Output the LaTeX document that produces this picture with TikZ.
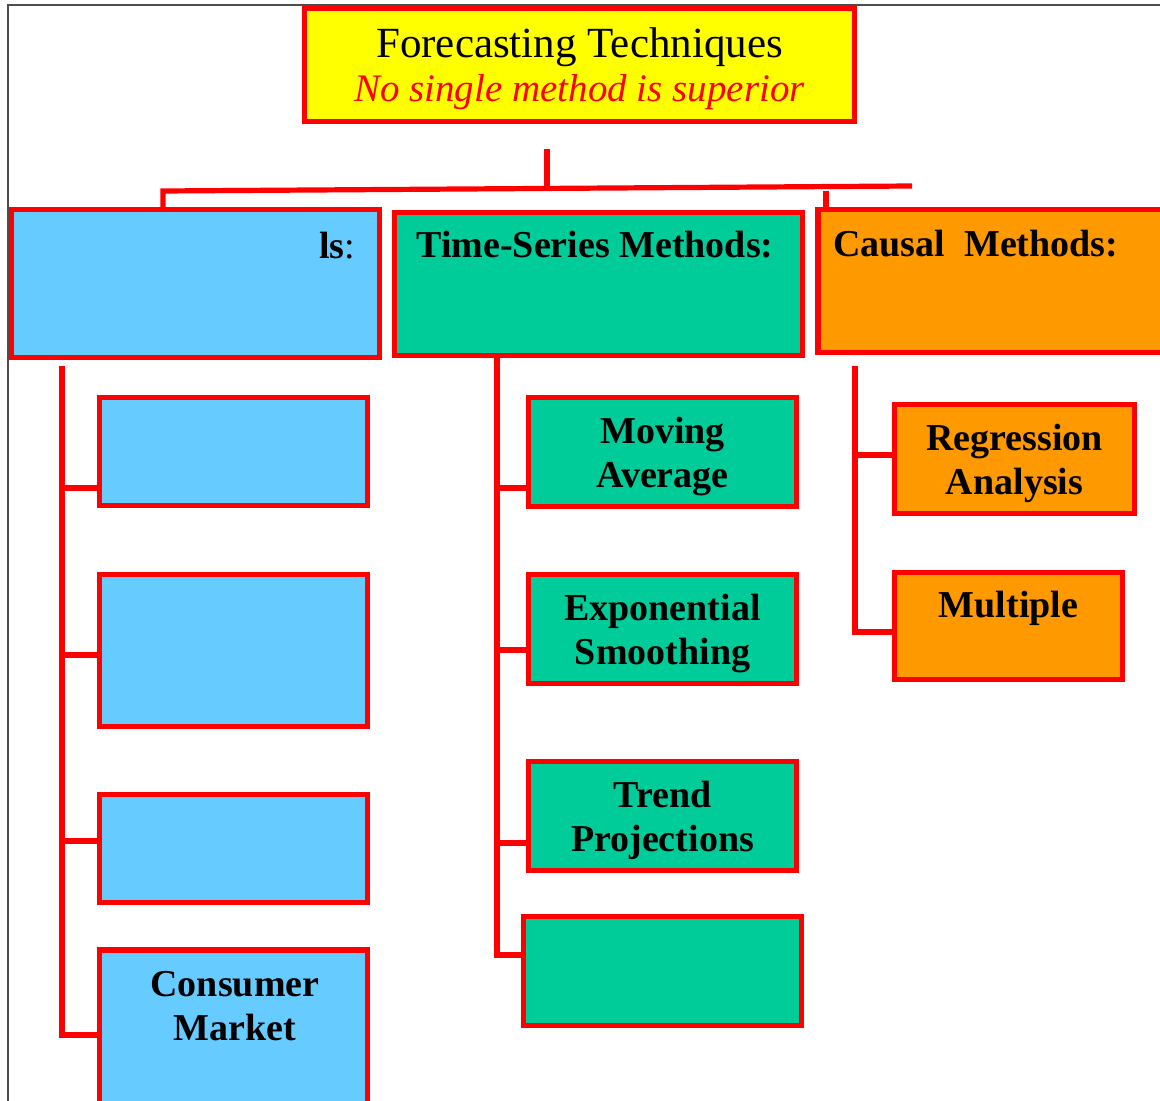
\documentclass[tikz,border=0pt]{standalone}
\usepackage{fontspec}
\setmainfont{Liberation Serif}
\usetikzlibrary{positioning,calc}
\definecolor{skyblue}{HTML}{66CCFF}
\definecolor{seagreen}{HTML}{00CC99}
\definecolor{amber}{HTML}{FF9900}
\definecolor{lemon}{HTML}{FFFF00}
\definecolor{framegray}{HTML}{4D4D4D}

\begin{document}
\begin{tikzpicture}[x=0.5pt, y=-0.5pt,
  box/.style={draw=red, line width=2.6pt, rectangle, inner sep=0pt, align=center,
    text depth=0pt, font=\bfseries\fontsize{19}{22}\selectfont},
  link/.style={draw=red, line width=2.6pt},
  lbl/.style={inner sep=0pt, align=center, font=\bfseries\fontsize{19}{22}\selectfont}]
  \clip (0,0) rectangle (1160,1101);
  % Page frame
  \draw[framegray, line width=1pt] (8,1101) -- (8,5) -- (1160,5);
  % Title
  \node[box, fill=lemon, minimum width=275pt, minimum height=56.5pt,
    font=\fontsize{21.5}{22}\selectfont] (title) at (579.5,65)
    {Forecasting Techniques\\\textcolor{red}{\fontsize{19.5}{22}\selectfont\itshape No single method is superior}};
  % Method families (headers)
  \node[box, fill=skyblue, minimum width=184pt, minimum height=74pt] (qual) at (195.5,283.5) {};
  \node[box, fill=seagreen, minimum width=204pt, minimum height=71.5pt] (tsm) at (598.5,284) {};
  \node[box, fill=amber, minimum width=176pt, minimum height=71.5pt] (causal) at (994,281) {};
  \node[lbl, anchor=base east] (qual-t) at ($(qual.north east)+(-26.5,51.5)$) {ls\textmd{:}};
  \node[lbl, anchor=base] (tsm-t) at ($(tsm.north)+(-3.5,48)$) {Time-Series Methods:};
  \node[lbl, anchor=base west] (causal-t) at ($(causal.north west)+(17.5,49.5)$) {Causal\ \ Methods:};
  % Qualitative column
  \node[box, fill=skyblue, minimum width=134pt, minimum height=54pt] (q1) at (233.5,451.5) {};
  \node[box, fill=skyblue, minimum width=134pt, minimum height=76pt] (q2) at (233.5,650.5) {};
  \node[box, fill=skyblue, minimum width=134pt, minimum height=54pt] (q3) at (233.5,848.5) {};
  \node[box, fill=skyblue, minimum width=134pt, minimum height=85pt] (q4) at (233.5,1035) {};
  \node[lbl, anchor=base] (q4-t) at ($(q4.north)+(1.5,93.5)$) {Consumer\\Market};
  % Time-series column
  \node[box, fill=seagreen, minimum width=134pt, minimum height=54.5pt] (g1) at (662.5,452) {Moving\\Average};
  \node[box, fill=seagreen, minimum width=134pt, minimum height=54.5pt] (g2) at (662.5,629) {Exponential\\Smoothing};
  \node[box, fill=seagreen, minimum width=134pt, minimum height=54.5pt] (g3) at (662.5,816) {Trend\\Projections};
  \node[box, fill=seagreen, minimum width=139pt, minimum height=54.5pt] (g4) at (662.5,971) {};
  % Causal column
  \node[box, fill=amber, minimum width=120pt, minimum height=54.5pt] (r1) at (1014.5,459) {Regression\\Analysis};
  \node[box, fill=amber, minimum width=114pt, minimum height=53.5pt] (r2) at (1008.5,626) {};
  \node[lbl, anchor=base] (r2-t) at ($(r2.north)+(0,47.5)$) {Multiple};
  % Bus under the title
  \coordinate (drop) at (547,149);
  \coordinate (join) at (547,187);
  \coordinate (bus-l) at (163,191);
  \coordinate (bus-r) at (912,186);
  \coordinate (tick) at (826,191);
  \draw[link] (drop) -- (join);
  \draw[link] (bus-l |- qual.north) -- (bus-l) -- (bus-r);
  \draw[link] (tick) -- (tick |- causal.north);
  % Column trunks and branches
  \coordinate (qual-trunk) at (62,366);
  \draw[link] (qual-trunk) |- (q4.west);
  \foreach \n/\dy in {q1/36.5, q2/4.5, q3/-7.5}
    \draw[link] (\n.west) ++(0,\dy) -| (qual-trunk);
  \coordinate (tsm-trunk) at (497,357);
  \draw[link] (tsm-trunk) |- ($(g4.west)+(0,-16)$);
  \foreach \n/\dy in {g1/36, g2/21, g3/27}
    \draw[link] (\n.west) ++(0,\dy) -| (tsm-trunk);
  \coordinate (causal-trunk) at (855,366);
  \draw[link] (causal-trunk) |- ($(r2.west)+(0,6)$);
  \draw[link] (r1.west) ++(0,-4) -| (causal-trunk);
\end{tikzpicture}
\end{document}
